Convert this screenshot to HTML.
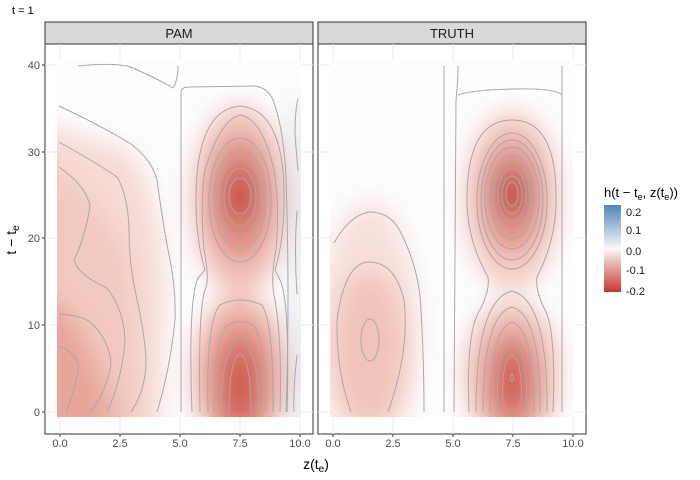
<!DOCTYPE html>
<html><head><style>body{margin:0;background:#fff}svg{display:block;font-family:"Liberation Sans",sans-serif}</style></head><body>
<svg width="700" height="480" xmlns="http://www.w3.org/2000/svg">
<defs>
<filter id="b" x="-50%" y="-50%" width="200%" height="200%"><feGaussianBlur stdDeviation="12"/></filter>
<filter id="b2" x="-50%" y="-50%" width="200%" height="200%"><feGaussianBlur stdDeviation="7"/></filter>
<clipPath id="c1"><rect x="57" y="61" width="244" height="356"/></clipPath>
<clipPath id="c2"><rect x="330" y="61" width="244" height="356"/></clipPath>
<linearGradient id="lg" x1="0" y1="0" x2="0" y2="1">
<stop offset="0" stop-color="#4f86b8"/><stop offset="0.5" stop-color="#fafafa"/><stop offset="1" stop-color="#c8372b"/></linearGradient>
</defs>
<text x="12" y="14" font-size="11" fill="#000">t = 1</text>
<!-- panel 1 -->
<rect x="45" y="22" width="268" height="22" fill="#d9d9d9" stroke="#333"/>
<text x="179" y="38" font-size="13" text-anchor="middle" fill="#1a1a1a">PAM</text>
<rect x="45" y="44" width="268" height="390" fill="#fff" stroke="#333"/>
<g stroke="#ebebeb" stroke-width="1">
<line x1="60" y1="44" x2="60" y2="434"/><line x1="120" y1="44" x2="120" y2="434"/><line x1="180" y1="44" x2="180" y2="434"/><line x1="240" y1="44" x2="240" y2="434"/><line x1="300" y1="44" x2="300" y2="434"/>
<line x1="45" y1="65" x2="313" y2="65"/><line x1="45" y1="152" x2="313" y2="152"/><line x1="45" y1="238" x2="313" y2="238"/><line x1="45" y1="325" x2="313" y2="325"/><line x1="45" y1="412" x2="313" y2="412"/>
</g>
<g clip-path="url(#c1)">
<rect x="57" y="61" width="244" height="356" fill="#fefdfd"/>
<g filter="url(#b)">
<path d="M30 120 L130 150 Q165 200 165 300 L160 440 L30 440Z" fill="#f6dad4"/>
<path d="M30 150 Q100 190 130 260 L145 440 L30 440Z" fill="#f2c9c1"/>
<path d="M30 290 Q90 300 120 440 L30 440Z" fill="#e8a699"/>
<ellipse cx="240" cy="200" rx="48" ry="95" fill="#f0c1b8"/>
<ellipse cx="240" cy="375" rx="48" ry="80" fill="#eeb8ae"/>
<ellipse cx="240" cy="198" rx="32" ry="62" fill="#e08c80"/>
<ellipse cx="240" cy="380" rx="32" ry="60" fill="#e08c80"/>
<ellipse cx="240" cy="196" rx="16" ry="28" fill="#c94a3e"/>
<ellipse cx="240" cy="385" rx="16" ry="40" fill="#cf5548"/>
<rect x="293" y="100" width="14" height="330" fill="#dbe4f0"/>
</g>
</g>
<g fill="none" stroke="#a8a8a8" stroke-width="1">
<path d="M78 66 Q120 62 133 68 Q160 80 173 88 Q178 80 178 66"/>
<path d="M181 412 L181 92 Q181 87 190 87 L255 86 Q268 88 273 100 Q284 130 286 177 Q290 300 286 412"/>
<path d="M59 106 Q100 125 131 144 Q152 160 157 180 Q164 231 170 260 Q176 290 175 320 Q170 370 157 412"/>
<path d="M59 142 Q100 165 117 177 Q128 195 129 230 Q129 261 135 290 Q145 335 146 360 Q146 390 131 412"/>
<path d="M59 167 Q85 185 90 205 Q86 235 74 260 Q78 275 107 288 Q124 310 125 340 Q122 380 107 412"/>
<path d="M59 314 Q80 315 90 322 Q110 340 111 365 Q105 395 90 412"/>
<path d="M59 346 Q75 352 79 365 Q75 390 66 412"/>
<path d="M298 99 Q295 110 295 135 L298 171"/><path d="M297 211 Q294 250 297 294"/><path d="M297 355 Q293 390 294 412"/>
<ellipse cx="240" cy="196" rx="11" ry="18"/><ellipse cx="240" cy="197" rx="16" ry="29"/><ellipse cx="240" cy="198" rx="21" ry="39"/><ellipse cx="240" cy="199" rx="26" ry="50"/><ellipse cx="240" cy="200" rx="31" ry="62"/>
<path d="M192 412 Q188 300 198 278 L205 270 Q196 240 196 200 Q196 110 240 106 Q285 110 284 200 Q284 240 275 270 L280 280 Q290 300 287 412" />
<path d="M200 412 Q198 310 205 290 Q210 280 204 250 Q200 200 205 170 Q220 120 240 115 Q262 118 274 170 Q280 210 276 250 Q270 280 275 300 Q282 340 280 412"/>
<path d="M208 412 Q206 320 220 305 Q240 295 262 305 Q274 325 273 412"/>
<path d="M214 412 Q214 335 228 325 Q240 318 253 325 Q266 340 266 412"/>
<path d="M221 412 Q221 350 240 337 Q259 350 259 412"/>
<path d="M229 412 Q229 360 240 354 Q251 360 251 412"/>
</g>
<!-- panel 2 -->
<rect x="318" y="22" width="268" height="22" fill="#d9d9d9" stroke="#333"/>
<text x="452" y="38" font-size="13" text-anchor="middle" fill="#1a1a1a">TRUTH</text>
<rect x="318" y="44" width="268" height="390" fill="#fff" stroke="#333"/>
<g stroke="#ebebeb" stroke-width="1">
<line x1="333" y1="44" x2="333" y2="434"/><line x1="393" y1="44" x2="393" y2="434"/><line x1="453" y1="44" x2="453" y2="434"/><line x1="513" y1="44" x2="513" y2="434"/><line x1="573" y1="44" x2="573" y2="434"/>
<line x1="318" y1="65" x2="586" y2="65"/><line x1="318" y1="152" x2="586" y2="152"/><line x1="318" y1="238" x2="586" y2="238"/><line x1="318" y1="325" x2="586" y2="325"/><line x1="318" y1="412" x2="586" y2="412"/>
</g>
<g clip-path="url(#c2)">
<rect x="330" y="61" width="244" height="356" fill="#fefdfd"/>
<g filter="url(#b)">
<ellipse cx="369" cy="330" rx="50" ry="130" fill="#f8e0db"/>
<ellipse cx="369" cy="350" rx="38" ry="80" fill="#f1c4bb"/>
<ellipse cx="512" cy="200" rx="48" ry="90" fill="#f3cbc3"/>
<ellipse cx="512" cy="375" rx="48" ry="75" fill="#f1c4bb"/>
<ellipse cx="512" cy="196" rx="32" ry="58" fill="#e3958a"/>
<ellipse cx="512" cy="380" rx="30" ry="55" fill="#e3958a"/>
<ellipse cx="512" cy="194" rx="15" ry="26" fill="#c33a2f"/>
<ellipse cx="512" cy="382" rx="15" ry="35" fill="#d05548"/>
</g>
</g>
<g fill="none" stroke="#a8a8a8" stroke-width="1">
<path d="M334 243 Q350 215 369 212 Q390 212 400 231 Q420 270 421 311 Q424 360 424 412"/>
<path d="M351 412 Q336 370 337 320 Q345 262 369 262 Q395 262 404 300 Q410 350 388 412"/>
<ellipse cx="370" cy="340" rx="9" ry="21"/>
<line x1="444" y1="66" x2="444" y2="412"/><path d="M458 66 Q458 80 456 100 L454 412"/><line x1="562" y1="66" x2="562" y2="412"/>
<path d="M458 95 Q470 90 513 89 Q556 88 562 95"/>
<ellipse cx="512" cy="194" rx="6" ry="12"/><ellipse cx="512" cy="195" rx="10" ry="19"/><ellipse cx="512" cy="195" rx="14" ry="26"/><ellipse cx="512" cy="196" rx="18" ry="34"/><ellipse cx="512" cy="197" rx="22" ry="42"/><ellipse cx="512" cy="198" rx="27" ry="51"/><ellipse cx="512" cy="200" rx="31" ry="60"/><ellipse cx="512" cy="201" rx="35" ry="68"/>
<path d="M469 412 Q466 330 480 310 Q490 290 488 277 Q467 240 467 200 Q467 120 512 120 Q557 120 556 200 Q556 240 537 277 Q535 290 545 310 Q556 330 553 412"/>
<path d="M476 412 Q476 300 512 291 Q548 300 547 412"/>
<path d="M483 412 Q483 315 512 307 Q541 315 540 412"/>
<path d="M490 412 Q490 330 512 322 Q534 330 534 412"/>
<path d="M497 412 Q497 345 512 339 Q527 345 527 412"/>
<path d="M503 405 Q501 360 512 355 Q523 360 521 405 Q512 415 503 405"/>
<ellipse cx="512" cy="378" rx="1.5" ry="4"/>
</g>
<!-- axes ticks -->
<g font-size="11" fill="#4d4d4d">
<g text-anchor="end"><text x="40" y="69">40</text><text x="40" y="156">30</text><text x="40" y="242">20</text><text x="40" y="329">10</text><text x="40" y="416">0</text></g>
<g text-anchor="middle"><text x="60" y="447">0.0</text><text x="120" y="447">2.5</text><text x="180" y="447">5.0</text><text x="240" y="447">7.5</text><text x="300" y="447">10.0</text>
<text x="333" y="447">0.0</text><text x="393" y="447">2.5</text><text x="453" y="447">5.0</text><text x="513" y="447">7.5</text><text x="573" y="447">10.0</text></g>
</g>
<g stroke="#333"><line x1="42" y1="65" x2="45" y2="65"/><line x1="42" y1="152" x2="45" y2="152"/><line x1="42" y1="238" x2="45" y2="238"/><line x1="42" y1="325" x2="45" y2="325"/><line x1="42" y1="412" x2="45" y2="412"/>
<line x1="60" y1="434" x2="60" y2="437"/><line x1="120" y1="434" x2="120" y2="437"/><line x1="180" y1="434" x2="180" y2="437"/><line x1="240" y1="434" x2="240" y2="437"/><line x1="300" y1="434" x2="300" y2="437"/>
<line x1="333" y1="434" x2="333" y2="437"/><line x1="393" y1="434" x2="393" y2="437"/><line x1="453" y1="434" x2="453" y2="437"/><line x1="513" y1="434" x2="513" y2="437"/><line x1="573" y1="434" x2="573" y2="437"/></g>
<text x="316" y="469" font-size="14" text-anchor="middle">z(t<tspan font-size="10" dy="3">e</tspan><tspan dy="-3">)</tspan></text>
<text transform="translate(16,240) rotate(-90)" font-size="14" text-anchor="middle">t − t<tspan font-size="10" dy="3">e</tspan></text>
<!-- legend -->
<text x="604" y="197" font-size="13">h(t − t<tspan font-size="9" dy="3">e</tspan><tspan dy="-3">, z(t</tspan><tspan font-size="9" dy="3">e</tspan><tspan dy="-3">))</tspan></text>
<rect x="604" y="205" width="17" height="87" fill="url(#lg)"/>
<g font-size="11" fill="#1a1a1a"><text x="626" y="216">0.2</text><text x="626" y="234">0.1</text><text x="626" y="255">0.0</text><text x="626" y="274">-0.1</text><text x="626" y="295">-0.2</text></g>
</svg>
</body></html>
